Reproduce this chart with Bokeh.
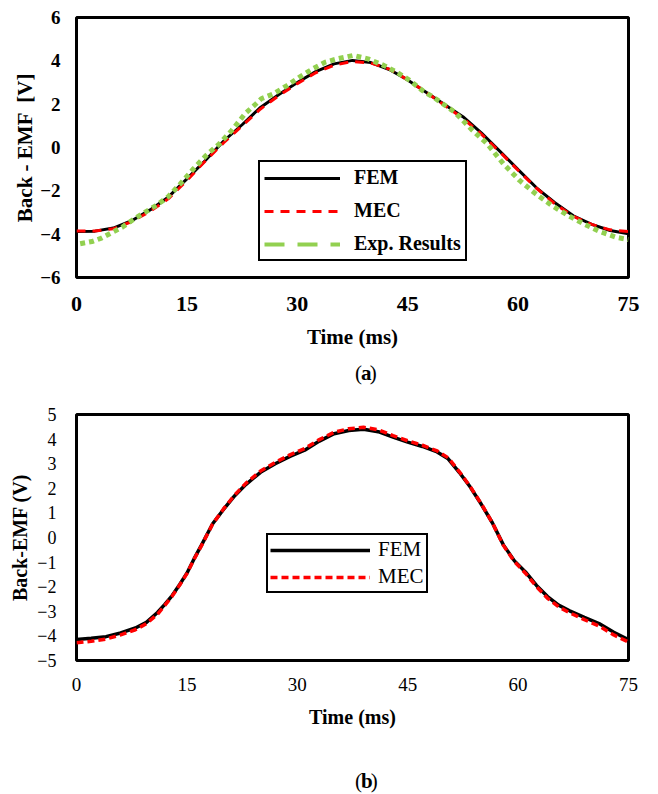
from bokeh.plotting import figure
from bokeh.layouts import column
from bokeh.models import Range1d, FixedTicker, Legend, LegendItem
from bokeh.core.properties import value
from bokeh.embed import file_html
from bokeh.resources import INLINE

SERIF = "Liberation Serif"

# ---------------- data: panel (a) ----------------
a_time = [0, 2.5, 5, 7.5, 10, 12.5, 15, 17.5, 20, 22.5, 25, 27.5, 30, 32.5, 35, 37.5,
          40, 42.5, 45, 47.5, 50, 52.5, 55, 57.5, 60, 62.5, 65, 67.5, 70, 72.5, 75]
a_fem = [-3.88, -3.86, -3.72, -3.38, -2.88, -2.28, -1.45, -0.60, 0.30, 1.05, 1.85, 2.45,
         3.00, 3.50, 3.86, 4.02, 3.92, 3.60, 3.12, 2.55, 1.98, 1.42, 0.68, -0.17, -1.02,
         -1.86, -2.55, -3.15, -3.55, -3.83, -3.98]
a_mec = [-3.85, -3.85, -3.75, -3.42, -2.95, -2.36, -1.52, -0.62, 0.22, 1.00, 1.78, 2.40,
         2.95, 3.45, 3.80, 3.97, 3.90, 3.62, 3.12, 2.55, 1.95, 1.35, 0.62, -0.20, -1.05,
         -1.88, -2.60, -3.18, -3.55, -3.80, -3.88]
a_exp_time = [0.5, 2.1, 3.4, 4.9, 6.2, 8.0, 9.5, 10.8, 12.4, 14.1, 15.9, 17.6, 19.4, 21.1,
              22.9, 24.4, 25.1, 26.8, 28.6, 30.3, 32.1, 33.8, 35.4, 37.6, 39.6, 41.8, 43.5,
              45.3, 47.0, 48.8, 50.1, 51.4, 53.6, 55.8, 58.0, 60.2, 62.4, 64.6, 66.8, 68.9,
              71.1, 73.3, 75.0]
a_exp = [-4.44, -4.34, -4.18, -3.91, -3.68, -3.26, -2.95, -2.68, -2.29, -1.68, -0.98, -0.37,
         0.17, 0.79, 1.56, 2.02, 2.25, 2.48, 2.86, 3.25, 3.63, 3.94, 4.09, 4.25, 4.09, 3.78,
         3.48, 3.09, 2.63, 2.25, 1.94, 1.63, 0.86, 0.17, -0.75, -1.52, -2.14, -2.68, -3.14,
         -3.52, -3.88, -4.14, -4.25]
a_xticks = [0, 15, 30, 45, 60, 75]
a_yticks = [-6, -4, -2, 0, 2, 4, 6]

# ---------------- data: panel (b) ----------------
b_time = [0, 2, 4, 6, 8, 9.5, 11, 12, 13, 14, 15, 16, 17, 18.5, 20, 21.5, 23, 25, 27, 29,
          31, 33, 35, 37, 39, 41, 43, 45, 47, 49, 50.5, 52, 53.5, 55, 56.5, 58, 59.5, 61,
          62.5, 64, 65.5, 67, 69, 71, 73, 75]
b_fem = [-4.15, -4.10, -4.03, -3.88, -3.68, -3.45, -3.05, -2.72, -2.36, -1.92, -1.45, -0.85,
         -0.30, 0.56, 1.15, 1.70, 2.15, 2.65, 3.00, 3.30, 3.55, 3.92, 4.22, 4.35, 4.40, 4.30,
         4.08, 3.88, 3.70, 3.48, 3.20, 2.65, 2.05, 1.35, 0.60, -0.30, -0.95, -1.40, -1.95,
         -2.40, -2.75, -2.98, -3.25, -3.50, -3.85, -4.15]
b_mec = [-4.28, -4.22, -4.13, -3.96, -3.75, -3.50, -3.12, -2.76, -2.38, -1.94, -1.47, -0.87,
         -0.32, 0.55, 1.17, 1.73, 2.20, 2.70, 3.05, 3.36, 3.62, 3.98, 4.28, 4.42, 4.48, 4.38,
         4.14, 3.93, 3.75, 3.52, 3.24, 2.68, 2.07, 1.37, 0.60, -0.32, -0.98, -1.45, -2.00,
         -2.47, -2.82, -3.06, -3.34, -3.60, -3.96, -4.25]
b_xticks = [0, 15, 30, 45, 60, 75]
b_yticks = [-5, -4, -3, -2, -1, 0, 1, 2, 3, 4, 5]

GREEN = "#92D050"
RED = "#FF0000"


def style(p, xticks, yticks, xsize, ysize, bold, xlabel_standoff, ylabel_standoff):
    p.outline_line_color = "black"
    p.outline_line_alpha = 1
    p.outline_line_width = 3
    p.xgrid.grid_line_color = None
    p.ygrid.grid_line_color = None
    p.xaxis.ticker = FixedTicker(ticks=xticks)
    p.yaxis.ticker = FixedTicker(ticks=yticks)
    for ax in (p.xaxis[0], p.yaxis[0]):
        ax.axis_line_color = None
        ax.major_tick_line_color = None
        ax.minor_tick_line_color = None
        ax.major_tick_out = 0
        ax.major_tick_in = 0
        ax.major_label_text_font = SERIF
        ax.major_label_text_color = "black"
        ax.major_label_text_font_style = "bold" if bold else "normal"
        ax.axis_label_text_font = SERIF
        ax.axis_label_text_font_style = "bold"
        ax.axis_label_text_color = "black"
    p.xaxis.major_label_text_font_size = xsize
    p.yaxis.major_label_text_font_size = ysize
    p.xaxis.axis_label_standoff = xlabel_standoff
    p.yaxis.axis_label_standoff = ylabel_standoff


def caption(height, letter, ypos, letter_x, close_x):
    c = figure(width=658, height=height, output_backend="svg", toolbar_location=None,
               x_range=Range1d(0, 658), y_range=Range1d(0, height),
               x_axis_type=None, y_axis_type=None, min_border=0)
    c.outline_line_color = None
    c.xgrid.grid_line_color = None
    c.ygrid.grid_line_color = None
    for txt, xx, st in (("(", 332, "normal"), (letter, letter_x, "bold"), (")", close_x, "normal")):
        c.text(x=[xx], y=[ypos], text=[txt], text_font=value(SERIF),
               text_font_size=value("21px"), text_font_style=st,
               text_baseline="middle", text_align="left", text_color="black")
    return c


# ---------------- panel (a) ----------------
p1 = figure(width=658, height=360, output_backend="svg", toolbar_location=None,
            x_range=Range1d(0, 75), y_range=Range1d(-6, 6),
            min_border_left=76, min_border_right=12, min_border_top=17, min_border_bottom=83)
style(p1, a_xticks, a_yticks, "22px", "19px", True, 11, 0)
p1.xaxis.major_label_standoff = 19
p1.yaxis.major_label_standoff = 16
p1.xaxis.axis_label = "Time (ms)"
p1.yaxis.axis_label = "Back - EMF \u00a0[V]"
p1.xaxis.axis_label_text_font_size = "21px"
p1.yaxis.axis_label_text_font_size = "21px"
p1.yaxis.major_label_overrides = {v: (("\u2212" + str(-v)) if v < 0 else str(v)) for v in a_yticks}

r_fem_a = p1.line(a_time, a_fem, line_color="black", line_width=3)
r_mec_a = p1.line(a_time, a_mec, line_color=RED, line_width=3, line_dash="9 7")
p1.line(a_exp_time, a_exp, line_color=GREEN, line_width=5, line_dash="5 4")
# single-point renderer used only for the legend sample (long dash)
r_exp_leg = p1.line(x=a_exp_time[:1], y=a_exp[:1], line_color=GREEN, line_width=4,
                    line_dash="20 13")

leg1 = Legend(items=[LegendItem(label="FEM", renderers=[r_fem_a]),
                     LegendItem(label="MEC", renderers=[r_mec_a]),
                     LegendItem(label="Exp. Results", renderers=[r_exp_leg])],
              location=(182, 16), margin=0, padding=4, spacing=10,
              label_height=20, glyph_height=20, glyph_width=76, label_standoff=14,
              label_text_font=SERIF, label_text_font_style="bold", label_text_font_size="20px",
              label_text_color="black", border_line_color="black", border_line_alpha=1,
              border_line_width=2, background_fill_color="white", background_fill_alpha=1)
p1.add_layout(leg1)

cap1 = caption(30, "a", 18, 339, 349.5)

# ---------------- panel (b) ----------------
p2 = figure(width=658, height=350, output_backend="svg", toolbar_location=None,
            x_range=Range1d(0, 75), y_range=Range1d(-5, 5),
            min_border_left=73, min_border_right=30, min_border_top=24, min_border_bottom=80)
style(p2, b_xticks, b_yticks, "19px", "18px", False, 12, 3)
p2.xaxis.major_label_standoff = 17
p2.yaxis.major_label_standoff = 20
p2.xaxis.axis_label = "Time (ms)"
p2.yaxis.axis_label = "Back-EMF (V)"
p2.xaxis.axis_label_text_font_size = "20px"
p2.yaxis.axis_label_text_font_size = "20px"

r_fem_b = p2.line(b_time, b_fem, line_color="black", line_width=3.5)
r_mec_b = p2.line(b_time, b_mec, line_color=RED, line_width=3.5, line_dash="7 4")

leg2 = Legend(items=[LegendItem(label="FEM", renderers=[r_fem_b]),
                     LegendItem(label="MEC", renderers=[r_mec_b])],
              location=(190, 67), margin=0, padding=2, spacing=2,
              label_height=18, glyph_height=18, glyph_width=100, label_standoff=8,
              label_text_font=SERIF, label_text_font_size="21px",
              label_text_color="black", border_line_color="black", border_line_alpha=1,
              border_line_width=2, background_fill_color="white", background_fill_alpha=1)
p2.add_layout(leg2)

cap2 = caption(54, "b", 14, 339, 350.7)

layout = column(p1, cap1, p2, cap2, spacing=0)
open("out.html", "w").write(file_html(layout, INLINE))
